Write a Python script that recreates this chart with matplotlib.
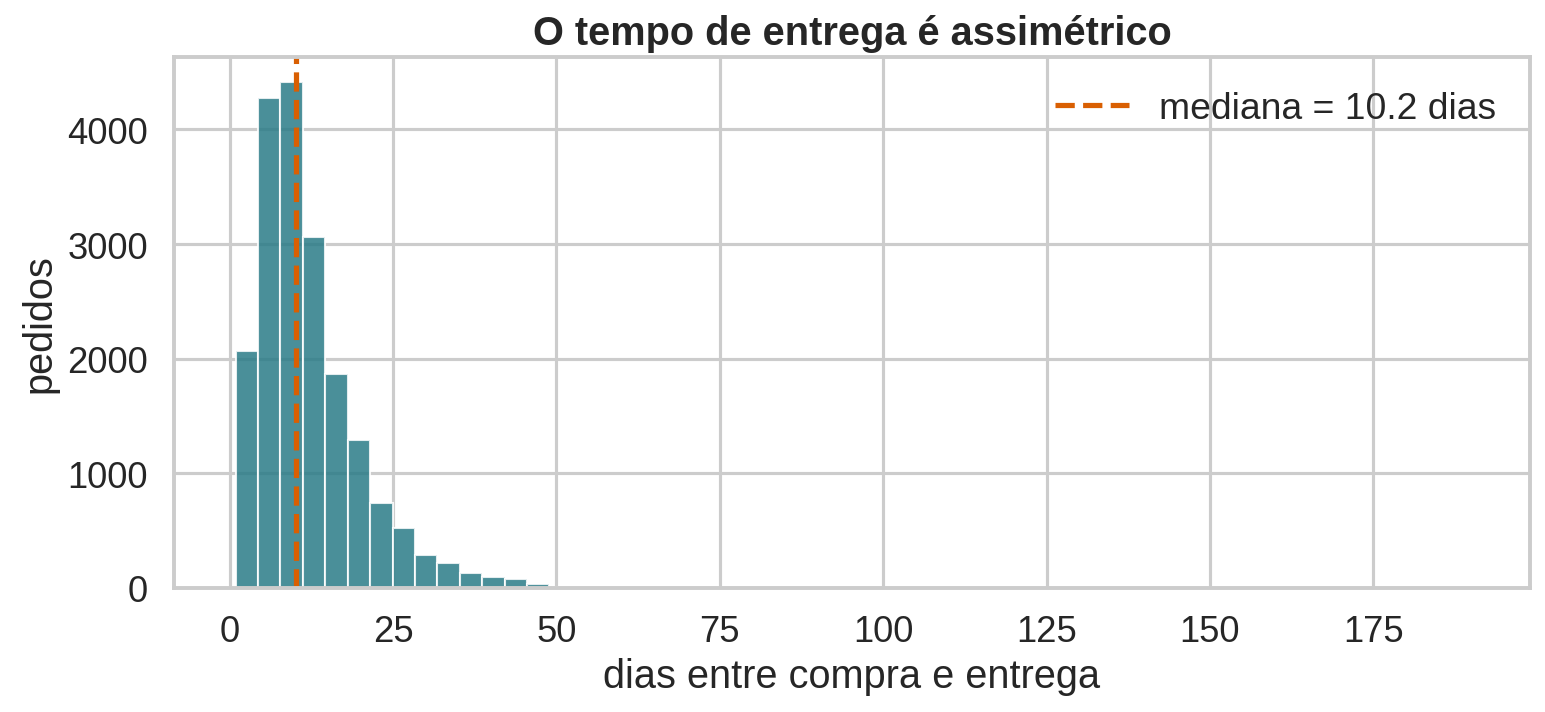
import numpy as np
import matplotlib
matplotlib.use("Agg")
import matplotlib.pyplot as plt
import seaborn as sns

# histogram (55 bins, first edge ~0.9 dias, width ~3.43)
bin_start = 0.9
bin_width = 3.43
counts = [2070, 4272, 4411, 3060, 1867, 1290, 745, 525, 285, 222,
          132, 100, 82, 35, 9, 7, 6, 5, 4, 3,
          3, 3, 2, 2, 2, 1, 1, 1, 1, 1,
          1, 1, 1, 0, 1, 1, 0, 1, 0, 1,
          0, 1, 0, 0, 1, 0, 0, 1, 0, 0,
          1, 0, 0, 0, 1]
mediana = 10.2

sns.set_theme(style="whitegrid", context="talk", font_scale=1.06)
plt.rcParams['font.family'] = ['Liberation Sans', 'DejaVu Sans']

edges = bin_start + bin_width * np.arange(len(counts) + 1)

fig = plt.figure(figsize=(10.3, 4.753), dpi=150)
ax = fig.add_axes([0.1126, 0.1739, 0.8777, 0.7448])
ax.hist(edges[:-1], bins=edges, weights=counts, color="#2a7b87", alpha=0.85,
        edgecolor="white", linewidth=1.0)
ax.axvline(mediana, color="#d95f02", linestyle="--", linewidth=2.5,
           label=f"mediana = {mediana} dias")
ax.set_xticks([0, 25, 50, 75, 100, 125, 150, 175])
ax.set_xlabel("dias entre compra e entrega")
ax.set_ylabel("pedidos")
ax.set_title("O tempo de entrega é assimétrico", fontweight="bold")
ax.legend(loc="upper right", frameon=False, fontsize=17.9)

fig.savefig("out.png", dpi=150)
